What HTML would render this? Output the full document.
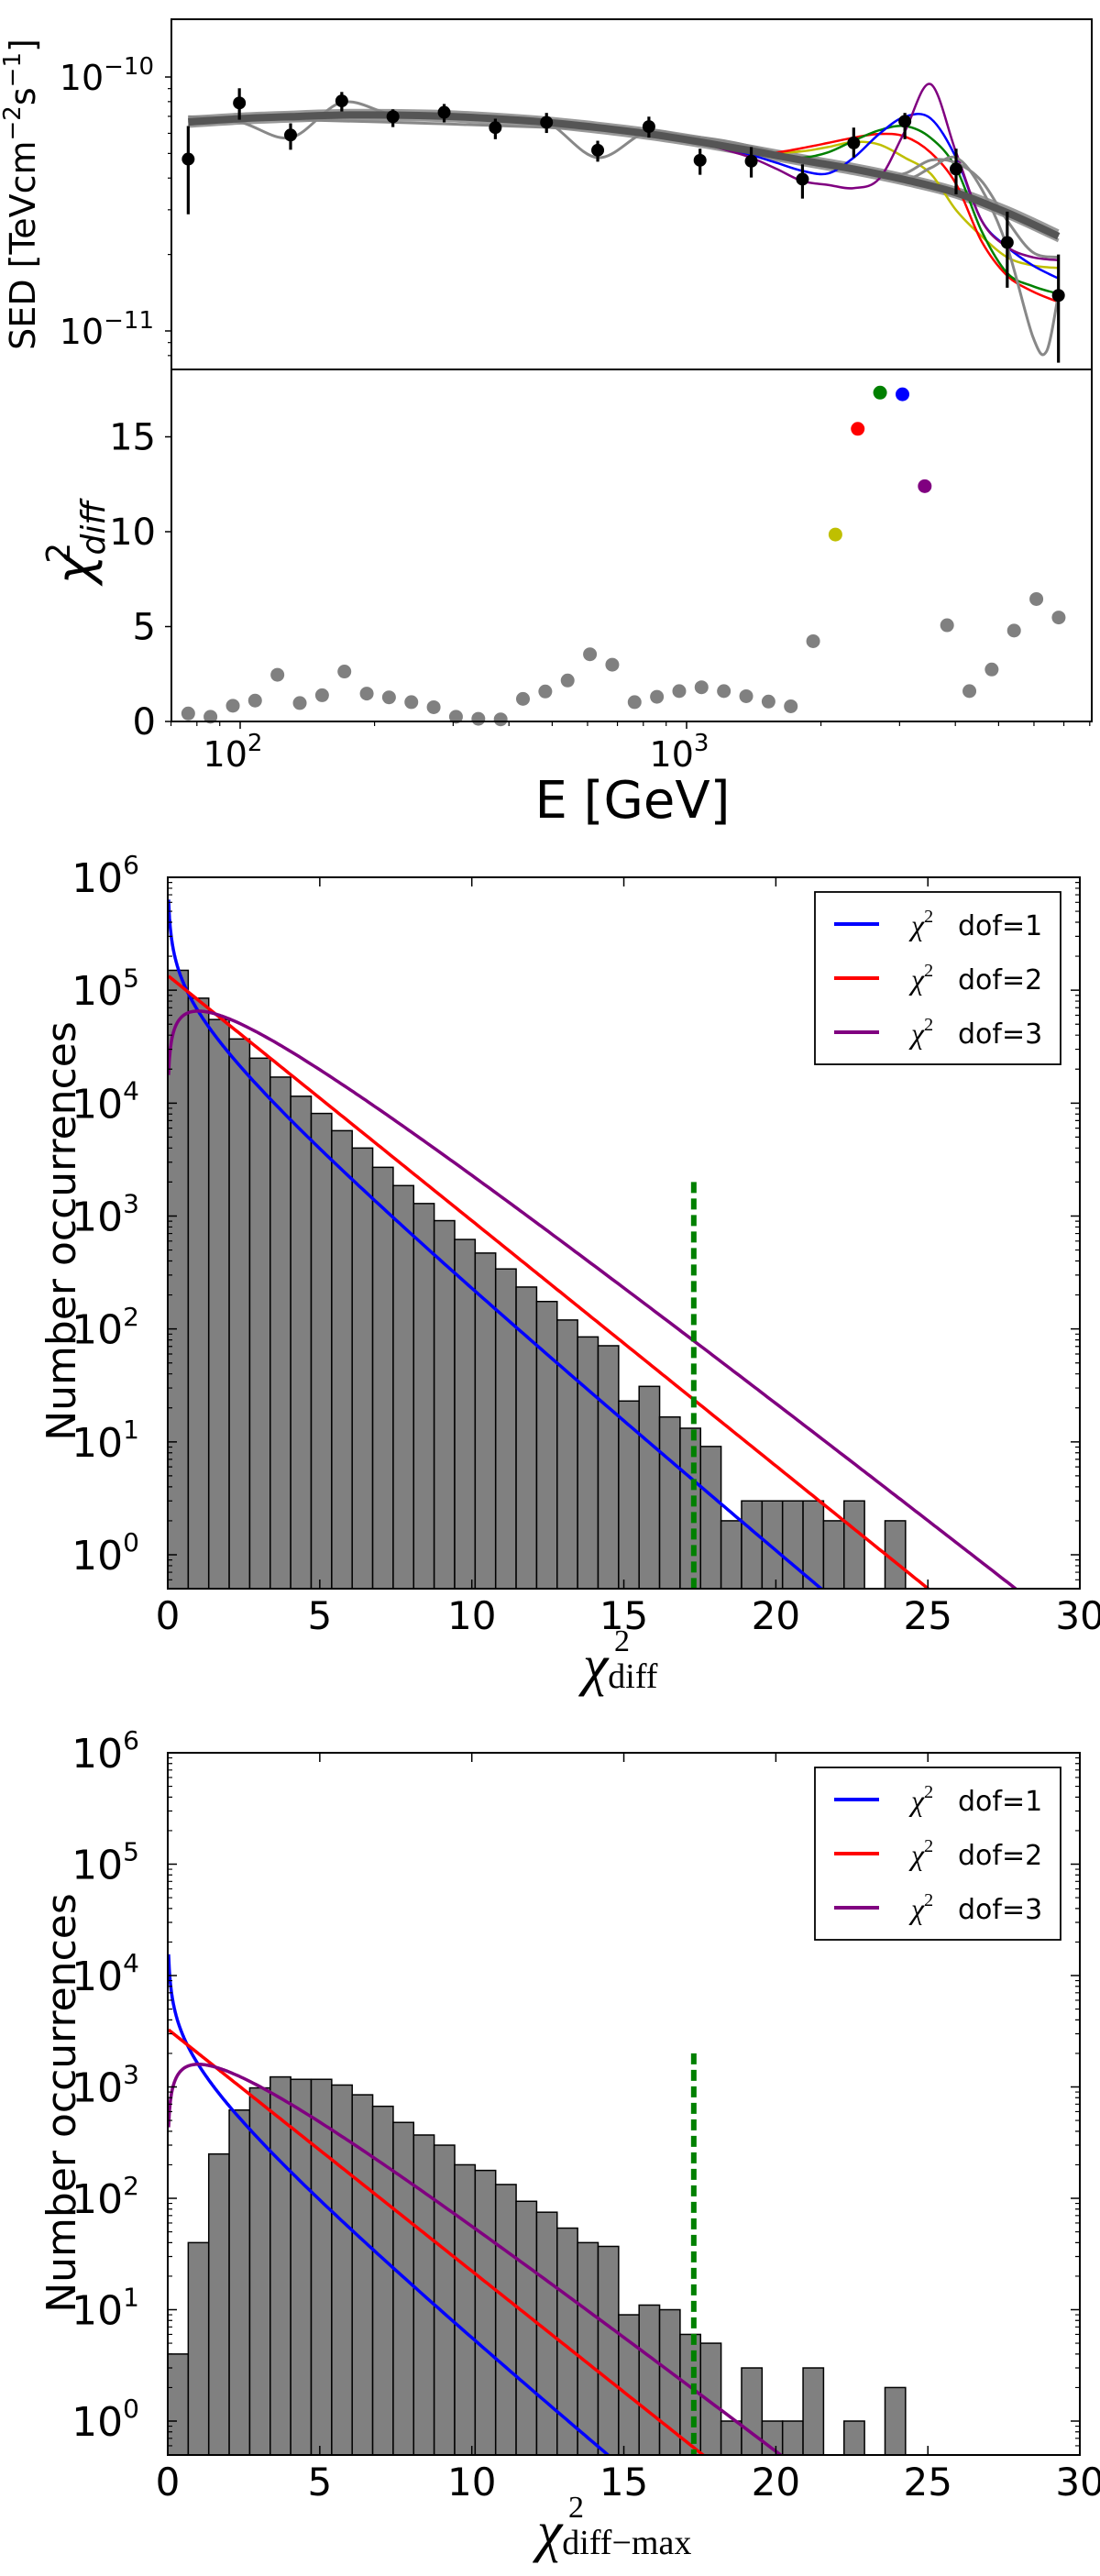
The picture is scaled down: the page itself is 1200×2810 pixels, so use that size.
<!DOCTYPE html>
<html><head><meta charset="utf-8"><style>
html,body{margin:0;padding:0;background:#fff;overflow:hidden;}
svg{display:block;}
text{font-family:"DejaVu Sans","Liberation Sans",sans-serif;fill:#000;}
.serif{font-family:"Liberation Serif","DejaVu Serif",serif;}
</style></head><body>
<svg id="chart" xmlns="http://www.w3.org/2000/svg" width="1200" height="2810" viewBox="0 0 1200 2810">
<defs>
<clipPath id="c1"><rect x="187" y="21" width="1004" height="382"/></clipPath>
<clipPath id="c1b"><rect x="187" y="403" width="1004" height="384"/></clipPath>
<clipPath id="c2"><rect x="183" y="957" width="995" height="776"/></clipPath>
<clipPath id="c3"><rect x="183" y="1912" width="995" height="766"/></clipPath>
</defs>
</svg>
<script>
// ---------- SED panel data (values in units of 1e-11 TeV cm^-2 s^-1) ----------
const sedE = [76.5, 99.6, 129.7, 168.9, 219.9, 286.4, 372.9, 485.6, 632.3, 823.4, 1072, 1396, 1818, 2368, 3083, 4015, 5228, 6808];
const sedVal = [4.75, 7.90, 5.91, 8.05, 6.98, 7.26, 6.32, 6.63, 5.15, 6.38, 4.70, 4.66, 3.96, 5.50, 6.69, 4.34, 2.23, 1.38];
const sedLo = [2.88, 6.79, 5.17, 7.32, 6.35, 6.63, 5.69, 6.02, 4.64, 5.77, 4.12, 4.02, 3.32, 4.82, 5.69, 3.45, 1.48, 0.75];
const sedHi = [6.41, 9.03, 6.57, 8.73, 7.46, 7.83, 6.85, 7.22, 5.61, 6.98, 5.22, 5.30, 4.53, 6.32, 7.22, 5.22, 2.95, 2.00];
// best-fit (thick) model, on sedE grid
const fitMain = [6.65, 6.85, 6.98, 7.08, 7.08, 7.01, 6.85, 6.63, 6.32, 5.97, 5.55, 5.12, 4.70, 4.34, 3.94, 3.50, 2.92, 2.36];
const fitUpper = [6.92, 7.12, 7.25, 7.36, 7.36, 7.29, 7.12, 6.88, 6.56, 6.20, 5.77, 5.32, 4.89, 4.51, 4.10, 3.64, 3.06, 2.47];
const fitLower = [6.41, 6.60, 6.72, 6.82, 6.82, 6.75, 6.60, 6.38, 6.08, 5.74, 5.35, 4.93, 4.53, 4.17, 3.79, 3.37, 2.81, 2.27];
const fitWiggleA = [6.88, 6.65, 5.77, 7.94, 7.12, 7.12, 6.92, 6.63, 4.81, 6.11, 5.61, 5.17, 4.75, 4.34, 3.98, 3.53, 2.99, 2.41];
const wiggleBE = [76.5, 168.9, 372.9, 823.4, 1396, 1818, 2368, 3083, 3518, 4015, 4581, 5228, 5965, 6400, 6808];
const wiggleBV = [6.65, 7.08, 6.85, 5.97, 5.12, 4.70, 4.27, 3.98, 4.38, 4.81, 3.62, 2.14, 0.95, 0.83, 1.40];
const wiggleCE = [76.5, 823.4, 1818, 2368, 2702, 3083, 3518, 4015, 4581, 5228, 5965, 6808];
const wiggleCV = [6.98, 6.05, 4.75, 4.42, 4.08, 4.17, 4.70, 4.59, 3.89, 2.72, 2.04, 1.95];
// bump models (energy grid shared)
const bumpE = [823, 939, 1072, 1223, 1396, 1593, 1818, 2075, 2368, 2702, 3083, 3518, 4015, 4581, 5228, 5965, 6808];
const bumpYellow = [5.97, 5.77, 5.55, 5.35, 5.17, 5.05, 5.10, 5.30, 5.55, 5.42, 4.81, 4.17, 2.99, 2.36, 1.95, 1.81, 1.77];
const bumpRed = [5.97, 5.77, 5.55, 5.30, 5.05, 5.05, 5.25, 5.50, 5.77, 5.97, 5.83, 5.05, 3.79, 2.25, 1.65, 1.43, 1.30];
const bumpGreen = [5.97, 5.77, 5.55, 5.30, 5.05, 4.86, 4.81, 5.05, 5.61, 6.17, 6.41, 5.77, 4.38, 2.47, 1.69, 1.50, 1.40];
const bumpBlue = [5.97, 5.77, 5.55, 5.25, 4.93, 4.59, 4.27, 4.17, 4.81, 5.97, 6.98, 6.88, 4.81, 2.72, 2.14, 1.81, 1.61];
const bumpPurple = [5.97, 5.77, 5.50, 5.17, 4.81, 4.34, 3.89, 3.76, 3.65, 3.98, 6.11, 9.38, 5.05, 2.72, 2.14, 1.95, 1.90];
// ---------- chi2_diff panel ----------
const chiE = [76.5, 85.8, 96.3, 108.0, 121.2, 136.0, 152.6, 171.2, 192.1, 215.5, 241.8, 271.3, 304.4, 341.6, 383.3, 430.0, 482.5, 541.4, 607.5, 681.6, 764.8, 858.1, 962.8, 1080, 1212, 1360, 1526, 1712, 1921, 2155, 2418, 2713, 3045, 3416, 3833, 4301, 4825, 5414, 6075, 6816];
const chiVal = [0.42, 0.25, 0.83, 1.1, 2.46, 0.97, 1.38, 2.63, 1.47, 1.27, 1.02, 0.75, 0.25, 0.14, 0.11, 1.19, 1.58, 2.16, 3.54, 2.99, 1.02, 1.3, 1.6, 1.8, 1.6, 1.33, 1.05, 0.8, 4.23, 9.85, 15.42, 17.33, 17.24, 12.4, 5.07, 1.6, 2.74, 4.79, 6.45, 5.48];
const chiModel = ['g','g','g','g','g','g','g','g','g','g','g','g','g','g','g','g','g','g','g','g','g','g','g','g','g','g','g','g','g','y','r','gr','b','p','g','g','g','g','g','g'];
const chiTicks = [0, 5, 10, 15];
const eMajor = [100, 1000];
const eMinor = [70, 80, 90, 200, 300, 400, 500, 600, 700, 800, 900, 2000, 3000, 4000, 5000, 6000, 7000, 8000];
// ---------- histograms ----------
const histBinWidth = 0.674;
const hist1Counts = [150000, 85000, 55000, 37000, 25000, 17000, 11500, 8100, 5700, 4000, 2700, 1860, 1290, 910, 620, 470, 340, 235, 175, 120, 85, 71, 23, 31, 16.6, 13.2, 9.1, 2, 3, 3, 3, 3, 2, 3, 0, 2];
const hist2Counts = [4, 40, 250, 620, 980, 1230, 1170, 1170, 1040, 850, 670, 480, 370, 300, 200, 178, 133, 94, 75, 54, 40, 37, 9, 11, 10, 6, 5, 1, 3, 1, 1, 3, 0, 1, 0, 2];
const hist1Norm = [270000];
const hist2Norm = [6600];
const dofList = [1, 2, 3];
const threshold = [17.3, 2000];
const xTicksHist = [0, 5, 10, 15, 20, 25, 30];
const yDecades = [0, 1, 2, 3, 4, 5, 6];

const NS = 'http://www.w3.org/2000/svg';
const svg = document.getElementById('chart');
function mk(tag, attrs, parent){ const e = document.createElementNS(NS, tag); for (const k in attrs) e.setAttribute(k, attrs[k]); (parent || svg).appendChild(e); return e; }
const colMap = {g:'#808080', y:'#bfbf00', r:'#ff0000', gr:'#008000', b:'#0000ff', p:'#800080'};

// scales
const xE = E => 262 + 487 * (Math.log10(E) - 2);
const ySED = v => 84 + 277 * (1 - Math.log10(v));
const yChi = c => 787 - 20.7 * c;
const xH = c => 183 + 33.17 * c;
const yH1 = n => 1696 - 123.17 * Math.log10(n);
const yH2 = n => 2641 - 121.5 * Math.log10(n);

function smoothPath(pts){
  let d = 'M' + pts[0][0].toFixed(1) + ',' + pts[0][1].toFixed(1);
  for (let i = 0; i < pts.length - 1; i++) {
    const p0 = pts[Math.max(0, i - 1)], p1 = pts[i], p2 = pts[i + 1], p3 = pts[Math.min(pts.length - 1, i + 2)];
    const c1 = [p1[0] + (p2[0] - p0[0]) / 6, p1[1] + (p2[1] - p0[1]) / 6];
    const c2 = [p2[0] - (p3[0] - p1[0]) / 6, p2[1] - (p3[1] - p1[1]) / 6];
    d += 'C' + c1[0].toFixed(1) + ',' + c1[1].toFixed(1) + ' ' + c2[0].toFixed(1) + ',' + c2[1].toFixed(1) + ' ' + p2[0].toFixed(1) + ',' + p2[1].toFixed(1);
  }
  return d;
}
function supText(parent, x, y, base, sup, size, supSize, anchor, cls){
  const t = mk('text', {x: x, y: y, 'font-size': size, 'text-anchor': anchor || 'end'}, parent);
  if (cls) t.setAttribute('class', cls);
  t.appendChild(document.createTextNode(base));
  if (sup !== null) {
    const s = mk('tspan', {'font-size': supSize, dy: -size * 0.45}, t);
    s.textContent = sup;
  }
  return t;
}

// ================= PANEL 1: SED =================
const g1 = mk('g', {});


const curves1 = mk('g', {'clip-path': 'url(#c1)'}, g1);


function sedCurve(E, V, color, w, name){
  const p = mk('path', {d: smoothPath(E.map((e, i) => [xE(e), ySED(V[i])])), fill: 'none', stroke: color, 'stroke-width': w, 'stroke-linejoin': 'round'}, curves1);
  
  
}
sedCurve(sedE, fitUpper, '#9a9a9a', 4, 'model-band-upper');
sedCurve(sedE, fitLower, '#9a9a9a', 4, 'model-band-lower');
sedCurve(sedE, fitWiggleA, '#888888', 3, 'model-wiggle-low-energy');
sedCurve(bumpE, bumpYellow, '#bfbf00', 2.5, 'model-bump-yellow');
sedCurve(bumpE, bumpRed, '#ff0000', 2.5, 'model-bump-red');
sedCurve(bumpE, bumpGreen, '#008000', 2.5, 'model-bump-green');
sedCurve(bumpE, bumpBlue, '#0000ff', 2.5, 'model-bump-blue');
sedCurve(bumpE, bumpPurple, '#800080', 2.5, 'model-bump-purple');
sedCurve(wiggleBE, wiggleBV, '#888888', 3, 'model-wiggle-dip');
sedCurve(wiggleCE, wiggleCV, '#888888', 3, 'model-wiggle-high-energy');
sedCurve(sedE, fitMain, '#555555', 8, 'model-best-fit');
// data points
sedE.forEach((e, i) => {
  const eb = mk('line', {x1: xE(e), x2: xE(e), y1: ySED(sedLo[i]), y2: ySED(sedHi[i]), stroke: '#000', 'stroke-width': 3.2}, curves1);
  
  
  const c = mk('circle', {cx: xE(e), cy: ySED(sedVal[i]), r: 7, fill: '#000'}, curves1);
  
  
});
// SED y ticks
[1, 10].forEach(v => {
  const tk = mk('line', {x1: 180, x2: 187, y1: ySED(v), y2: ySED(v), stroke: '#000', 'stroke-width': 1.5}, g1);
  
  
  const lb = supText(g1, 168, ySED(v) + 14, '10', v === 1 ? '\u221211' : '\u221210', 38, 26, 'end');
  
  
});
[0.8, 0.9, 2, 3, 4, 5, 6, 7, 8, 9].forEach(v => {
  const tk = mk('line', {x1: 183, x2: 187, y1: ySED(v), y2: ySED(v), stroke: '#000', 'stroke-width': 1.2}, g1);
  
  
});
const sedLab = mk('text', {transform: 'translate(38,212) rotate(-90)', 'text-anchor': 'middle', 'font-size': 38}, g1);


sedLab.innerHTML = 'SED [TeVcm<tspan font-size="26" dy="-16">\u22122</tspan><tspan dy="16">s</tspan><tspan font-size="26" dy="-16">\u22121</tspan><tspan dy="16">]</tspan>';

// ================= chi2 diff panel =================
const g1b = mk('g', {});


chiE.forEach((e, i) => {
  const c = mk('circle', {cx: xE(e), cy: yChi(chiVal[i]), r: 7.5, fill: colMap[chiModel[i]]}, g1b);
  
  
});
chiTicks.forEach(v => {
  const tk = mk('line', {x1: 180, x2: 187, y1: yChi(v), y2: yChi(v), stroke: '#000', 'stroke-width': 1.5}, g1b);
  
  
  const lb = mk('text', {x: 170, y: yChi(v) + 14, 'font-size': 40, 'text-anchor': 'end'}, g1b);
  
  
  lb.textContent = String(v);
});
eMajor.forEach(e => {
  const tk = mk('line', {x1: xE(e), x2: xE(e), y1: 787, y2: 795, stroke: '#000', 'stroke-width': 1.5}, g1b);
  
  
  const lb = supText(g1b, xE(e) - 8, 836, '10', e === 100 ? '2' : '3', 38, 26, 'middle');
  
  
});
eMinor.forEach(e => {
  const tk = mk('line', {x1: xE(e), x2: xE(e), y1: 787, y2: 792, stroke: '#000', 'stroke-width': 1.2}, g1b);
  
  
});
const chiLab = mk('text', {transform: 'translate(100,592) rotate(-90)', 'text-anchor': 'middle', 'font-size': 54}, g1b);


chiLab.innerHTML = '<tspan font-style="italic">\u03c7</tspan><tspan font-size="36" font-style="italic" dy="14">diff</tspan><tspan font-size="36" dx="-68" dy="-38">2</tspan>';
const eLab = mk('text', {x: 690, y: 892, 'text-anchor': 'middle', 'font-size': 56}, g1b);


eLab.textContent = 'E [GeV]';
const fr1 = mk('rect', {x: 187, y: 21, width: 1004, height: 766, fill: 'none', stroke: '#000', 'stroke-width': 2});


const sep = mk('line', {x1: 187, x2: 1191, y1: 403, y2: 403, stroke: '#000', 'stroke-width': 2});



// ================= histogram panels =================
function chiPdf(x, k){
  const g = k === 1 ? Math.sqrt(Math.PI) : (k === 2 ? 1 : Math.sqrt(Math.PI) / 2);
  return Math.pow(x, k / 2 - 1) * Math.exp(-x / 2) / (Math.pow(2, k / 2) * g);
}
function histPanel(counts, norm, yS, top, bottom, clip, name, xlabSub, labY){
  const g = mk('g', {});
  
  
  const inner = mk('g', {'clip-path': 'url(#' + clip + ')'}, g);
  counts.forEach((n, i) => {
    if (n <= 0) return;
    const x0 = xH(i * histBinWidth), x1 = xH((i + 1) * histBinWidth);
    const r = mk('rect', {x: x0, y: yS(n), width: x1 - x0, height: bottom + 5 - yS(n), fill: '#808080', stroke: '#000', 'stroke-width': 1.5}, inner);
    
    
  });
  const cols = ['#0000ff', '#ff0000', '#800080'];
  dofList.forEach((k, j) => {
    const pts = [];
    for (let x = 0.028; x <= 30; x += (x < 2 ? 0.01 : 0.1)) {
      const v = norm[0] * chiPdf(x, k);
      pts.push(xH(x).toFixed(1) + ',' + yS(v).toFixed(1));
    }
    const pl = mk('polyline', {points: pts.join(' '), fill: 'none', stroke: cols[j], 'stroke-width': 3.5}, inner);
    
    
  });
  const th = mk('line', {x1: xH(threshold[0]), x2: xH(threshold[0]), y1: yS(threshold[1]), y2: bottom, stroke: '#008000', 'stroke-width': 6, 'stroke-dasharray': '12 6'}, inner);
  
  
  // frame
  const fr = mk('rect', {x: 183, y: top, width: 995, height: bottom - top, fill: 'none', stroke: '#000', 'stroke-width': 2}, g);
  
  
  // x ticks
  xTicksHist.forEach(v => {
    const t1 = mk('path', {d: 'M' + xH(v) + ',' + bottom + 'v-10M' + xH(v) + ',' + top + 'v10', stroke: '#000', 'stroke-width': 1.5}, g);
    
    
    const lb = mk('text', {x: xH(v), y: bottom + 44, 'font-size': 42, 'text-anchor': 'middle'}, g);
    
    
    lb.textContent = String(v);
  });
  // y ticks
  yDecades.forEach(d => {
    const y = yS(Math.pow(10, d));
    const t1 = mk('path', {d: 'M183,' + y + 'h10M1178,' + y + 'h-10', stroke: '#000', 'stroke-width': 1.5}, g);
    
    
    const lb = supText(g, 152, y + 16, '10', String(d), 44, 28, 'end');
    
    
    for (let m = 2; m <= 9; m++) {
      const v = m * Math.pow(10, d - 1);
      const yy = yS(v);
      if (yy > bottom || yy < top) continue;
      const t2 = mk('path', {d: 'M183,' + yy + 'h5M1178,' + yy + 'h-5', stroke: '#000', 'stroke-width': 1.2}, g);
      
      
    }
  });
  const yl = mk('text', {transform: 'translate(82,' + labY + ') rotate(-90)', 'text-anchor': 'middle', 'font-size': 44}, g);
  
  
  yl.textContent = 'Number occurrences';
  const x0 = xlabSub === 'diff' ? 636 : 586;
  const xl = mk('text', {x: x0, y: bottom + 104, 'font-size': 62, 'text-anchor': 'start', class: 'serif'}, g);
  
  
  xl.innerHTML = '<tspan font-style="italic">\u03c7</tspan><tspan font-size="38" dy="4">' + xlabSub + '</tspan><tspan font-size="34" x="' + (x0 + 34) + '" dy="-40">2</tspan>';
  // legend
  const lg = mk('g', {}, g);
  
  
  const ly = top + 16;
  const lr = mk('rect', {x: 889, y: ly, width: 268, height: 188, fill: '#fff', stroke: '#000', 'stroke-width': 1.8}, lg);
  
  
  dofList.forEach((k, j) => {
    const yy = ly + 35 + j * 59;
    const ln = mk('line', {x1: 910, x2: 959, y1: yy, y2: yy, stroke: cols[j], 'stroke-width': 4}, lg);
    
    
    const tx = mk('text', {x: 994, y: yy + 12, 'font-size': 32}, lg);
    
    
    tx.innerHTML = '<tspan class="serif" font-style="italic">\u03c7</tspan><tspan class="serif" font-size="20" dy="-14">2</tspan><tspan x="1045" dy="14" font-size="30">dof=' + k + '</tspan>';
  });
  return g;
}
histPanel(hist1Counts, hist1Norm, yH1, 957, 1733, 'c2', 'chi2-diff-histogram-panel', 'diff', 1343);
histPanel(hist2Counts, hist2Norm, yH2, 1912, 2678, 'c3', 'chi2-diff-max-histogram-panel', 'diff\u2212max', 2294);
</script>
</body></html>
